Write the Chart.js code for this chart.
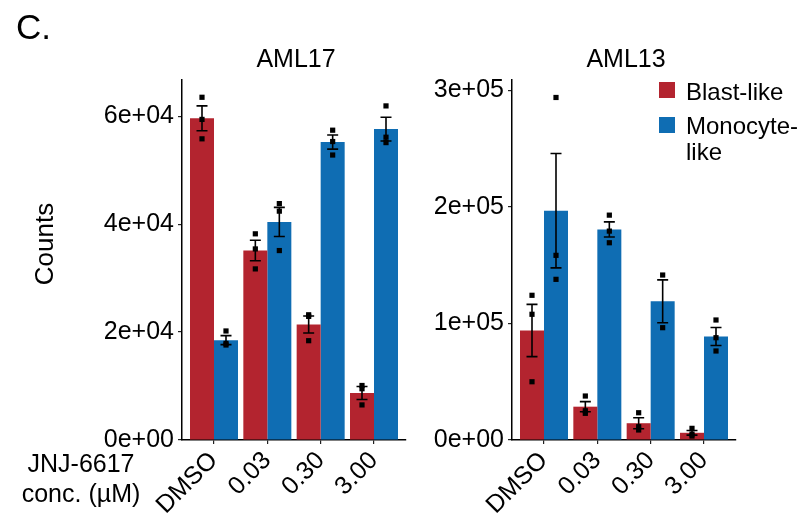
<!DOCTYPE html>
<html>
<head>
<meta charset="utf-8">
<script src="https://cdn.jsdelivr.net/npm/chart.js@4"></script>
<style>
  html, body { margin: 0; padding: 0; background: #fff; }
  body { width: 811px; height: 516px; position: relative; overflow: hidden;
         font-family: 'Liberation Sans', Arial, Helvetica, sans-serif; color: #000; }
  canvas { position: absolute; top: 0; }
  .txt { position: absolute; white-space: nowrap; line-height: 1; }
  .sw { position: absolute; left: 659px; width: 16px; height: 16px; }
  .lab { position: absolute; left: 686px; font-size: 24px; line-height: 26px; white-space: pre; }
</style>
</head>
<body>
<canvas id="c17" width="420" height="516" style="left:0px;width:420px;height:516px"></canvas>
<canvas id="c13" width="391" height="516" style="left:420px;width:391px;height:516px"></canvas>

<div class="txt" style="left:16px;top:9px;font-size:35px;">C.</div>
<div class="txt" id="t17" style="top:46px;font-size:25px;">AML17</div>
<div class="txt" id="t13" style="top:46px;font-size:25px;">AML13</div>
<div class="txt" style="left:44px;top:244px;font-size:26px;transform:translate(-50%,-50%) rotate(-90deg);">Counts</div>
<div class="txt" style="left:16px;top:448px;width:130px;text-align:center;font-size:25px;line-height:30px;">JNJ-6617<br>conc. (µM)</div>
<div id="legend"></div>

<script>
// Treatment groups and cell populations
const categories = ['DMSO', '0.03', '0.30', '3.00'];
const seriesNames = ['Blast-like', 'Monocyte-\nlike'];
const seriesColors = ['#B3242F', '#0F6DB3'];

// AML17: mean counts, standard errors, replicate counts
const aml17BlastMean = [59600, 35100, 21400, 8700];
const aml17BlastSE = [2300, 1900, 1570, 1200];
const aml17BlastReps = [[63500, 59400, 55800], [38200, 35400, 31700], [23200, 22900, 18400], [10100, 9500, 6500]];
const aml17MonoMean = [18500, 40400, 55200, 57600];
const aml17MonoSE = [830, 2700, 1300, 2200];
const aml17MonoReps = [[20200, 17600, 17900], [43800, 42400, 35100], [57400, 55300, 52800], [61900, 56100, 55100]];

// AML13: mean counts, standard errors, replicate counts
const aml13BlastMean = [94000, 28600, 14400, 6200];
const aml13BlastSE = [22450, 4300, 4700, 2000];
const aml13BlastReps = [[124200, 107900, 50000], [37750, 25100, 22900], [23400, 11400, 8600], [10000, 5100, 3400]];
const aml13MonoMean = [196800, 180700, 119000, 88800];
const aml13MonoSE = [49100, 6500, 18400, 7750];
const aml13MonoReps = [[294000, 158500, 137900], [193000, 179300, 169300], [141600, 96400], [103000, 87800, 76400]];

// Y-axis ticks
const aml17Ticks = [0, 20000, 40000, 60000];
const aml17TickLabels = ['0e+00', '2e+04', '4e+04', '6e+04'];
const aml13Ticks = [0, 100000, 200000, 300000];
const aml13TickLabels = ['0e+00', '1e+05', '2e+05', '3e+05'];

const FONT = "'Liberation Sans', Arial, Helvetica, sans-serif";

// Error bars (mean ± SE) and replicate dots drawn on top of the bars
const errorAndDots = {
  id: 'errorAndDots',
  afterDatasetsDraw(chart) {
    const ctx = chart.ctx;
    const yScale = chart.scales.y;
    chart.data.datasets.forEach((ds, di) => {
      const meta = chart.getDatasetMeta(di);
      meta.data.forEach((bar, i) => {
        const x = bar.x;
        const m = ds.data[i].y;
        const se = ds.se[i];
        const yTop = yScale.getPixelForValue(m + se);
        const yBot = yScale.getPixelForValue(Math.max(0, m - se));
        ctx.save();
        ctx.strokeStyle = '#000';
        ctx.lineWidth = 1.6;
        ctx.beginPath();
        ctx.moveTo(x, yTop); ctx.lineTo(x, yBot);
        ctx.moveTo(x - 5.5, yTop); ctx.lineTo(x + 5.5, yTop);
        ctx.moveTo(x - 5.5, yBot); ctx.lineTo(x + 5.5, yBot);
        ctx.stroke();
        ctx.fillStyle = '#000';
        ds.reps[i].forEach(v => {
          const py = yScale.getPixelForValue(v);
          ctx.fillRect(x - 2.6, py - 2.6, 5.2, 5.2);
        });
        ctx.restore();
      });
    });
  }
};

function makeChart(id, means, ses, reps, ticks, tickLabels, yMax, yWidth, rightPad) {
  const datasets = means.map((vals, si) => ({
    label: seriesNames[si].replace('\n', ''),
    data: vals.map((v, i) => ({ x: i + 1, y: v })),
    se: ses[si],
    reps: reps[si],
    backgroundColor: seriesColors[si],
    borderWidth: 0,
    categoryPercentage: 0.9,
    barPercentage: 1.0
  }));
  return new Chart(document.getElementById(id), {
    type: 'bar',
    data: { datasets },
    plugins: [errorAndDots],
    options: {
      responsive: false,
      animation: false,
      devicePixelRatio: 1,
      layout: { padding: { top: 80, right: rightPad, left: 0, bottom: 0 } },
      plugins: { legend: { display: false }, tooltip: { enabled: false } },
      scales: {
        x: {
          type: 'linear',
          min: 0.4, max: 4.6,
          offset: false,
          grid: { display: true, offset: false, drawOnChartArea: false, drawTicks: true, tickLength: 4, color: '#222', lineWidth: 1.2 },
          border: { display: true, color: '#000', width: 1.5 },
          afterBuildTicks: s => { s.ticks = categories.map((_, i) => ({ value: i + 1 })); },
          afterFit: s => { s.height = 76; },
          ticks: {
            autoSkip: false, minRotation: 45, maxRotation: 45, padding: 2,
            color: '#000', font: { family: FONT, size: 25 },
            callback: v => categories[v - 1]
          }
        },
        y: {
          min: 0, max: yMax,
          grid: { display: true, drawOnChartArea: false, drawTicks: true, tickLength: 4, color: '#222', lineWidth: 1.2 },
          border: { display: true, color: '#000', width: 1.5 },
          afterBuildTicks: s => { s.ticks = ticks.map(v => ({ value: v })); },
          afterFit: s => { s.width = yWidth; },
          ticks: {
            padding: 4, color: '#000', font: { family: FONT, size: 25 },
            callback: v => tickLabels[ticks.indexOf(v)]
          }
        }
      }
    }
  });
}

const ch17 = makeChart('c17', [aml17BlastMean, aml17MonoMean], [aml17BlastSE, aml17MonoSE],
  [aml17BlastReps, aml17MonoReps], aml17Ticks, aml17TickLabels, 66700, 182, 14);
const ch13 = makeChart('c13', [aml13BlastMean, aml13MonoMean], [aml13BlastSE, aml13MonoSE],
  [aml13BlastReps, aml13MonoReps], aml13Ticks, aml13TickLabels, 309000, 92, 75);

// Panel titles centred over each plotting area
function centreTitle(el, chart, offsetLeft) {
  const a = chart.chartArea;
  const w = el.getBoundingClientRect().width;
  el.style.left = (offsetLeft + (a.left + a.right) / 2 - w / 2 + 2) + 'px';
}
centreTitle(document.getElementById('t17'), ch17, 0);
centreTitle(document.getElementById('t13'), ch13, 420);

// Legend: coloured keys with (wrapped) labels
const legend = document.getElementById('legend');
const keyTops = [82, 116.5];
seriesNames.forEach((name, i) => {
  const sw = document.createElement('div');
  sw.className = 'sw';
  sw.style.top = keyTops[i] + 'px';
  sw.style.background = seriesColors[i];
  const lab = document.createElement('div');
  lab.className = 'lab';
  lab.style.top = (keyTops[i] - 3.5) + 'px';
  lab.textContent = name;
  legend.appendChild(sw);
  legend.appendChild(lab);
});
</script>
</body>
</html>
